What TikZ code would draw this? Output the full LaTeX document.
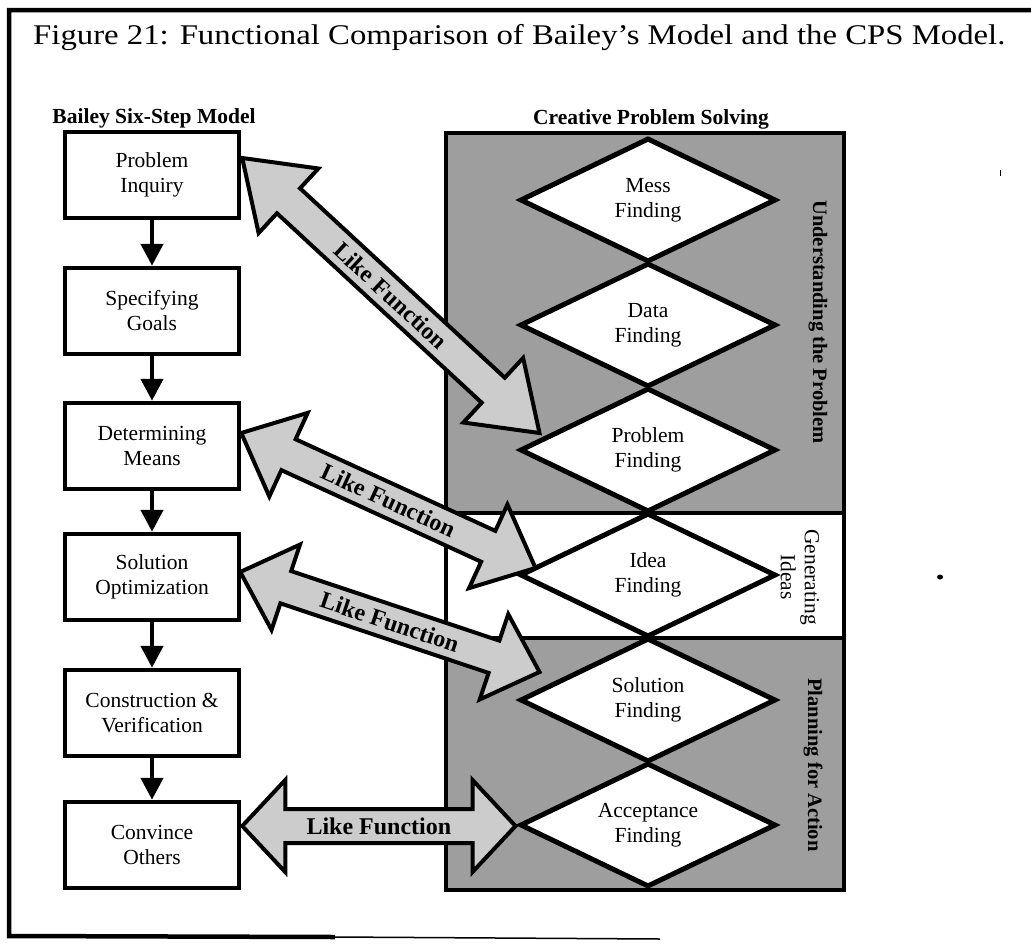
\documentclass[tikz,border=0pt]{standalone}
\usepackage{fontspec}
\setmainfont{Liberation Serif}
\usetikzlibrary{calc,shapes.geometric,arrows.meta}

% Double block arrow between two points: #1, #2 tips, #3 head length,
% #4 head half-width, #5 shaft half-width
\newcommand{\likearrow}[5]{%
  \coordinate (la) at ($(#1)!#3!(#2)$);
  \coordinate (lb) at ($(#2)!#3!(#1)$);
  \draw[likearrow] (#1) -- ($(la)!#4!90:(#2)$) -- ($(la)!#5!90:(#2)$)
    -- ($(lb)!#5!-90:(#1)$) -- ($(lb)!#4!-90:(#1)$) -- (#2)
    -- ($(lb)!#4!90:(#1)$) -- ($(lb)!#5!90:(#1)$)
    -- ($(la)!#5!-90:(#2)$) -- ($(la)!#4!-90:(#2)$) -- cycle;
  \path (#1) -- node[liketext, sloped] {Like Function} (#2);
}

\tikzset{
  stepbox/.style={draw, line width=4.5pt, fill=white, minimum width=174pt,
    minimum height=86pt, inner sep=0pt, align=center,
    font=\fontsize{21.5}{25}\selectfont},
  phase/.style={diamond, aspect=2.05, draw, line width=5pt, fill=white,
    minimum width=256pt, minimum height=124pt, inner sep=0pt, align=center,
    font=\fontsize{21.5}{25}\selectfont},
  flow/.style={line width=4.5pt, -{Triangle[width=22pt,length=22pt]}},
  likearrow/.style={draw, line width=4pt, fill=black!20, line join=miter},
  liketext/.style={font=\fontsize{24}{24}\selectfont\bfseries},
  heading/.style={font=\fontsize{21.5}{24}\selectfont\bfseries},
  sidebold/.style={rotate=-90, font=\fontsize{20.5}{24}\selectfont\bfseries},
  sideplain/.style={rotate=-90, align=center, font=\fontsize{21.5}{24}\selectfont},
  shade/.style={fill=black!38},
  rule/.style={line width=4pt},
}

\begin{document}
\begin{tikzpicture}[x=1pt, y=-1pt]
\useasboundingbox (0,0) rectangle (1031,943);

% outer frame
\draw[line width=4.5pt] (1040,10) -- (9,10) -- (9,936) -- (335,937);
\draw[line width=1.5pt] (335,937) -- (660,939);

% title and headings
\node[anchor=base west, inner sep=0pt] (title) at (33,44)
  {\scalebox{1.15}[1]{\fontsize{28.5}{30}\selectfont Figure 21: Functional Comparison of Bailey’s Model and the CPS Model.}};
\node[heading, anchor=base] (bailey) at (154,123) {Bailey Six-Step Model};
\node[heading, anchor=base] (cps) at (651,124) {Creative Problem Solving};

% Bailey six-step model
\node[stepbox] (b1) at (152,175) {Problem\\Inquiry};
\node[stepbox] (b2) at (152,311) {Specifying\\Goals};
\node[stepbox] (b3) at (152,446) {Determining\\Means};
\node[stepbox] (b4) at (152,577) {Solution\\Optimization};
\node[stepbox] (b5) at (152,713) {Construction \&\\Verification};
\node[stepbox] (b6) at (152,845) {Convince\\Others};

\draw[flow] (b1.south) -- (b2.north);
\draw[flow] (b2.south) -- (b3.north);
\draw[flow] (b3.south) -- (b4.north);
\draw[flow] (b4.south) -- (b5.north);
\draw[flow] (b5.south) -- (b6.north);

% CPS panel: shaded stages
\fill[shade] (446,133) rectangle (844,513);
\fill[shade] (446,638) rectangle (844,890);

\node[phase] (d1) at (648,200) {Mess\\Finding};
\node[phase] (d2) at (648,325) {Data\\Finding};
\node[phase] (d3) at (648,450) {Problem\\Finding};
\node[phase] (d4) at (648,575) {Idea\\Finding};
\node[phase] (d5) at (648,700) {Solution\\Finding};
\node[phase] (d6) at (648,825) {Acceptance\\Finding};

\draw[rule] (446,133) rectangle (844,890);
\draw[rule] (446,513) -- (844,513);
\draw[rule] (446,638) -- (844,638);

\node[sidebold] (stage1) at (818,322) {Understanding the Problem};
\node[sideplain] (stage2) at (800,577) {Generating\\Ideas};
\node[sidebold] (stage3) at (813,765) {Planning for Action};

% like-function links
\coordinate (l1a) at ($(b1.east)+(1,-17)$);
\coordinate (l1b) at ($(d3.west)+(22,-17)$);
\coordinate (l2a) at ($(b3.east)+(0,-13)$);
\coordinate (l2b) at ($(d4.west)+(18,-7)$);
\coordinate (l3a) at ($(b4.east)+(-1,-5)$);
\coordinate (l3b) at ($(d5.west)+(22,-28)$);
\coordinate (l4a) at ($(b6.east)+(1,-19)$);
\coordinate (l4b) at ($(d6.west)+(-2,1)$);

\likearrow{l1a}{l1b}{63pt}{44pt}{17pt}
\likearrow{l2a}{l2b}{52pt}{46pt}{17pt}
\likearrow{l3a}{l3b}{48pt}{45pt}{17pt}
\likearrow{l4a}{l4b}{43pt}{46pt}{17pt}

% ink marks
\fill (940,577) ellipse (3pt and 2.5pt);
\draw[line width=1pt] (1000,170) -- (1000,176);
\end{tikzpicture}
\end{document}
